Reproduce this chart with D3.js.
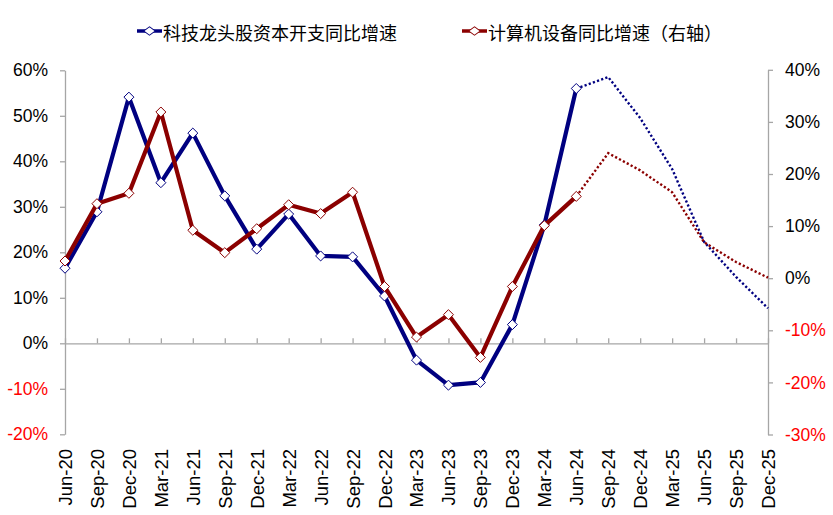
<!DOCTYPE html>
<html><head><meta charset="utf-8">
<script src="https://cdn.jsdelivr.net/npm/d3@7"></script>
<style>
html,body{margin:0;padding:0;background:#fff;}
svg{display:block;}
</style></head>
<body>
<svg id="chart" width="833" height="515"></svg>
<script>
const categories = ["Jun-20","Sep-20","Dec-20","Mar-21","Jun-21","Sep-21","Dec-21","Mar-22","Jun-22","Sep-22","Dec-22","Mar-23","Jun-23","Sep-23","Dec-23","Mar-24","Jun-24","Sep-24","Dec-24","Mar-25","Jun-25","Sep-25","Dec-25"];
const techCapex = [16.5,28.9,54.1,35.3,46.2,32.4,20.7,28.4,19.2,19.0,10.4,-3.7,-9.2,-8.6,4.1,26.0,56.0,58.5,49.5,38.3,22.3,14.6,7.7];
const computerEquip = [3.3,14.3,16.3,31.9,9.2,4.9,9.5,14.1,12.4,16.5,-1.6,-11.3,-7.0,-15.2,-1.6,10.1,15.7,24.0,20.7,16.5,6.9,3.1,0.1];
const lastActual = "Jun-24";
const leftTicks = [-20,-10,0,10,20,30,40,50,60];
const rightTicks = [-30,-20,-10,0,10,20,30,40];
const seriesNames = ["科技龙头股资本开支同比增速","计算机设备同比增速（右轴）"];

const BLUE = "#000080", RED = "#8B0000", AXIS = "#A6A6A6";
const svg = d3.select("#chart");
const x = d3.scalePoint().domain(categories).range([65, 768]);
const yL = d3.scaleLinear().domain([-20, 60]).range([434.3, 70.3]);
const yR = d3.scaleLinear().domain([-30, 40]).range([434.5, 69.8]);
const font = "'Liberation Sans', Arial, sans-serif";

function styleAxis(g){
  g.selectAll("path.domain").attr("stroke", AXIS).attr("stroke-width", 1.3);
  g.selectAll(".tick line").attr("stroke", AXIS).attr("stroke-width", 1.3);
  g.selectAll("text").attr("font-family", font).attr("font-size", 17.5).attr("fill", d => d < 0 ? "#FF0000" : "#000");
}
const gL = svg.append("g").attr("transform", "translate(65,0)")
  .call(d3.axisLeft(yL).tickValues(leftTicks).tickSizeInner(5).tickSizeOuter(0).tickPadding(12).tickFormat(d => d + "%"));
styleAxis(gL);
const gR = svg.append("g").attr("transform", "translate(768,0)")
  .call(d3.axisRight(yR).tickValues(rightTicks).tickSizeInner(5).tickSizeOuter(0).tickPadding(12).tickFormat(d => d + "%"));
styleAxis(gR);

const y0 = yL(0);
const gX = svg.append("g").attr("transform", `translate(0,${y0})`)
  .call(d3.axisBottom(x).tickSizeInner(-5).tickSizeOuter(0));
gX.selectAll("path.domain").attr("stroke", AXIS).attr("stroke-width", 1.3);
gX.selectAll(".tick line").attr("stroke", AXIS).attr("stroke-width", 1.3);
gX.selectAll("text").attr("font-family", font).attr("font-size", 18.5).attr("fill", "#000")
  .attr("x", 0).attr("y", 0).attr("dy", "0.35em").attr("text-anchor", "end")
  .attr("transform", `translate(0,${449 - y0}) rotate(-90)`);

const idx = categories.indexOf(lastActual);
function drawSeries(vals, y, color){
  const pts = vals.map((v, i) => ({c: categories[i], v, i}));
  const line = d3.line().x(d => x(d.c)).y(d => y(d.v));
  const actual = pts.filter(d => d.i <= idx), fc = pts.filter(d => d.i >= idx);
  svg.append("path").attr("d", line(fc)).attr("fill", "none").attr("stroke", color)
    .attr("stroke-width", 2.4).attr("stroke-dasharray", "2.2,2.2");
  svg.append("path").attr("d", line(actual)).attr("fill", "none").attr("stroke", color)
    .attr("stroke-width", 4.2).attr("stroke-linejoin", "round");
  const sym = d3.symbol().type(d3.symbolDiamond2).size(64);
  svg.append("g").selectAll("path").data(actual).join("path")
    .attr("d", sym).attr("transform", d => `translate(${x(d.c)},${y(d.v)})`)
    .attr("fill", "#fff").attr("stroke", color).attr("stroke-width", 1);
}
drawSeries(techCapex, yL, BLUE);
drawSeries(computerEquip, yR, RED);

// legend
const legend = [{name: seriesNames[0], color: BLUE, x: 137}, {name: seriesNames[1], color: RED, x: 462}];
const lg = svg.append("g");
legend.forEach(l => {
  lg.append("line").attr("x1", l.x).attr("x2", l.x + 25).attr("y1", 31).attr("y2", 31)
    .attr("stroke", l.color).attr("stroke-width", 3.5);
  lg.append("path").attr("d", d3.symbol().type(d3.symbolDiamond2).size(50)())
    .attr("transform", `translate(${l.x + 12.5},31) scale(1.3,0.95)`).attr("fill", "#fff").attr("stroke", l.color).attr("stroke-width", 0.9);
  lg.append("text").attr("x", l.x + 26).attr("y", 33.5).attr("dy", "0.36em")
    .attr("font-family", "'Noto Sans CJK SC', sans-serif").attr("font-size", 18).attr("fill", "#000")
    .text(l.name);
});
</script>
</body></html>
